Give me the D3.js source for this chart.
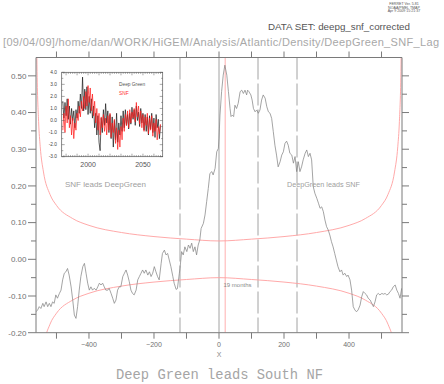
<!DOCTYPE html>
<html>
<head>
<meta charset="utf-8">
<script src="https://cdn.jsdelivr.net/npm/d3@7"></script>
<style>
  body { margin: 0; background: #fff; }
  svg { display: block; }
</style>
</head>
<body>
<script>
// lag correlation DeepGreen vs SNF (lag in months)
const corrLag = [
  -563,-558,-553,-548,-542,-538,-532,-527,-522,-517,-512,-507,-502,-497,-491,-486,-481,-476,-471,-466,
  -461,-455,-450,-445,-440,-435,-430,-425,-419,-414,-409,-404,-399,-394,-389,-384,-378,-373,-368,-363,
  -358,-353,-348,-342,-338,-332,-327,-322,-317,-312,-307,-302,-296,-291,-286,-281,-276,-271,-266,-261,
  -255,-250,-245,-240,-235,-230,-225,-219,-214,-209,-204,-199,-194,-189,-184,-178,-174,-168,-163,-158,
  -153,-148,-142,-138,-132,-128,-122,-120,-115,-110,-105,-99,-94,-89,-84,-79,-74,-69,-64,-59,
  -55,-48,-43,-38,-33,-28,-22,-18,-12,-7,-2,0,3,8,13,18,24,29,34,37,
  41,45,49,54,59,65,70,75,80,85,88,92,98,102,106,111,116,121,126,131,
  136,142,147,152,157,162,167,172,177,182,188,193,198,203,208,213,218,224,229,234,
  239,244,249,254,259,265,270,275,280,285,290,295,301,306,311,316,321,326,331,336,
  341,346,351,356,361,366,372,377,382,387,393,397,403,408,413,418,423,428,434,439,
  444,449,454,459,465,470,475,480,485,490,495,501,506,511,516,521,526,531,536,542,
  547,552,557,562
];
const corrVal = [
  -0.143,-0.138,-0.129,-0.134,-0.120,-0.129,-0.116,-0.129,-0.120,-0.129,-0.116,-0.120,-0.097,-0.106,-0.093,-0.084,-0.056,-0.038,-0.034,-0.025,
  -0.043,-0.075,-0.111,-0.152,-0.161,-0.129,-0.084,-0.047,-0.020,-0.011,-0.038,-0.065,-0.084,-0.075,-0.084,-0.079,-0.084,-0.075,-0.065,-0.070,
  -0.065,-0.075,-0.084,-0.084,-0.079,-0.093,-0.106,-0.120,-0.111,-0.084,-0.075,-0.075,-0.047,-0.038,-0.029,-0.043,-0.061,-0.084,-0.093,-0.097,
  -0.084,-0.056,-0.047,-0.038,-0.029,-0.038,-0.029,-0.043,-0.034,-0.047,-0.038,-0.020,-0.034,-0.047,-0.056,-0.011,0.016,0.025,0.012,0.016,
  -0.002,-0.020,-0.047,-0.065,-0.082,-0.080,-0.038,-0.025,0.021,0.012,0.034,0.021,0.039,0.030,0.044,0.021,0.034,0.012,0.039,0.053,
  0.084,0.098,0.121,0.157,0.193,0.234,0.239,0.230,0.248,0.293,0.302,0.330,0.393,0.457,0.502,0.529,0.502,0.457,0.411,0.389,
  0.393,0.389,0.420,0.411,0.425,0.457,0.461,0.452,0.461,0.448,0.461,0.457,0.448,0.434,0.411,0.402,0.407,0.398,0.407,0.434,
  0.448,0.439,0.416,0.402,0.398,0.384,0.348,0.311,0.284,0.252,0.266,0.284,0.293,0.316,0.322,0.311,0.289,0.284,0.262,0.280,
  0.239,0.266,0.239,0.252,0.271,0.289,0.298,0.280,0.289,0.271,0.198,0.180,0.166,0.153,0.139,0.143,0.130,0.107,0.089,0.080,
  0.066,0.048,0.034,0.016,-0.002,-0.020,-0.034,-0.029,-0.043,-0.038,-0.047,-0.043,-0.056,-0.084,-0.129,-0.138,-0.143,-0.138,-0.125,-0.102,
  -0.088,-0.093,-0.097,-0.106,-0.111,-0.120,-0.129,-0.116,-0.097,-0.093,-0.097,-0.093,-0.095,-0.093,-0.097,-0.095,-0.088,-0.084,-0.075,-0.070,
  -0.084,-0.093,-0.106,-0.079
];

// significance bounds
const sigLag   = [-562,-560,-555,-550,-540,-520,-500,-450,-400,-300,-200,-100,0,100,200,300,400,450,500,520,540,550,555,560,562];
const sigUpper = [0.69,0.53,0.376,0.307,0.238,0.177,0.147,0.111,0.0925,0.073,0.062,0.055,0.05,0.055,0.062,0.073,0.0925,0.111,0.147,0.177,0.238,0.307,0.376,0.53,0.69];
const sigLower = [-0.69,-0.53,-0.376,-0.307,-0.238,-0.177,-0.147,-0.111,-0.0925,-0.073,-0.062,-0.055,-0.05,-0.055,-0.062,-0.073,-0.0925,-0.111,-0.147,-0.177,-0.238,-0.307,-0.376,-0.53,-0.69];

const markerLags = [-120, 120, 240];
const leadLag = 19;

const xTicks = [-500,-400,-300,-200,-100,0,100,200,300,400,500];
const xLabels = [-400,-200,0,200,400];
const yTicks = [-0.2,-0.15,-0.1,-0.05,0,0.05,0.1,0.15,0.2,0.25,0.3,0.35,0.4,0.45,0.5];
const yLabels = [-0.2,-0.1,0,0.1,0.2,0.3,0.4,0.5];

// inset time series, one value per year from 1977
const insetStart = 1977;
const deepGreen = [
  1.6,0.2,1.5,0.4,1.8,0.1,1.2,-0.3,1.0,0.0,
  0.8,-0.6,0.9,0.2,1.6,0.6,2.2,1.0,3.6,0.8,
  2.6,0.9,2.8,0.5,2.0,0.6,1.8,0.2,1.2,-0.6,
  0.6,-1.2,0.4,-1.8,-2.5,0.2,-1.0,0.9,-0.4,1.4,
  -0.2,0.8,-1.0,0.5,-1.5,0.3,-2.2,0.0,-1.6,0.6,
  -1.8,-0.2,-1.2,0.4,-0.9,0.8,-0.6,0.9,-0.4,0.5,
  -0.7,0.6,-0.3,1.1,0.1,0.9,-0.4,1.2,0.0,0.7,
  -0.5,1.0,-0.2,0.6,-0.8,0.5,-0.9,0.3,-1.2,0.4,
  -0.7,0.6,-1.0,0.2,-1.4,0.5,-0.6,0.1,-1.5,-0.4
];
const snf = [
  -0.8,0.6,-1.0,1.2,-0.2,1.8,-0.6,0.4,-1.2,0.2,
  -1.5,-0.2,-0.8,0.6,0.0,1.2,0.3,1.6,0.8,2.0,
  1.0,2.4,1.2,2.9,1.5,2.7,0.8,2.2,0.4,1.6,
  -0.2,1.0,-0.8,0.6,-1.2,0.3,-0.6,0.5,-0.9,0.2,
  -1.2,0.4,-0.8,0.6,-1.4,-0.2,-1.0,0.1,-1.9,-0.6,
  -2.4,-0.8,-2.2,-0.5,-1.6,0.2,-0.9,0.5,-0.4,0.8,
  -0.6,0.9,-0.2,0.7,0.2,1.0,-0.1,1.5,0.3,1.2,
  -0.3,0.8,-0.6,0.5,-0.9,0.3,-0.4,0.6,-1.1,0.2,
  -0.8,0.4,-1.3,-0.2,-0.9,0.1,-1.6,-0.5,-1.1,-0.3
];
const insetYTicks = [-3,-2,-1,0,1,2,3,4];
const insetXLabels = [2000, 2050];

const width = 444, height = 384;
const pLeft = 36, pRight = 402, pTop = 57.5, pBottom = 332.7;
const axisColor = "#7a7a7a";

const svg = d3.select("body").append("svg")
    .attr("width", width)
    .attr("height", height)
    .attr("font-family", "'Liberation Sans', sans-serif");

const x = d3.scaleLinear().domain([-563, 563]).range([pLeft, pRight]);
const y = d3.scaleLinear().domain([-0.2, 0.55]).range([pBottom, pTop]);

svg.append("clipPath").attr("id", "plot")
  .append("rect")
    .attr("x", pLeft).attr("y", pTop)
    .attr("width", pRight - pLeft).attr("height", pBottom - pTop);

const plot = svg.append("g").attr("clip-path", "url(#plot)");

// vertical reference lines
plot.selectAll(".marker")
  .data(markerLags)
  .join("line")
    .attr("x1", d => x(d)).attr("x2", d => x(d))
    .attr("y1", pTop).attr("y2", pBottom)
    .attr("stroke", "#8c8c8c")
    .attr("stroke-width", 0.8)
    .attr("stroke-dasharray", "22,4");

plot.append("line")
    .attr("x1", x(0)).attr("x2", x(0))
    .attr("y1", pTop).attr("y2", pBottom)
    .attr("stroke", "#8c8c8c")
    .attr("stroke-width", 0.8);

plot.append("line")
    .attr("x1", x(leadLag)).attr("x2", x(leadLag))
    .attr("y1", pTop).attr("y2", pBottom)
    .attr("stroke", "#ff9a9a")
    .attr("stroke-width", 0.8);

// significance curves
const sigLine = d3.line()
    .x((d, i) => x(sigLag[i]))
    .y(d => y(d))
    .curve(d3.curveMonotoneX);

[sigUpper, sigLower].forEach(s => {
  plot.append("path")
      .attr("d", sigLine(s))
      .attr("fill", "none")
      .attr("stroke", "#ff9f9f")
      .attr("stroke-width", 0.9);
});

// correlation curve
const corrLine = d3.line()
    .x((d, i) => x(corrLag[i]))
    .y(d => y(d));

plot.append("path")
    .attr("d", corrLine(corrVal))
    .attr("fill", "none")
    .attr("stroke", "#858585")
    .attr("stroke-width", 0.75);

// axes frame
const frame = svg.append("g").attr("stroke", axisColor).attr("stroke-width", 1);
frame.append("line").attr("x1", pLeft).attr("x2", pLeft).attr("y1", pTop).attr("y2", pBottom);
frame.append("line").attr("x1", pRight).attr("x2", pRight).attr("y1", pTop).attr("y2", pBottom);
frame.append("line").attr("x1", pLeft).attr("x2", pRight).attr("y1", pBottom).attr("y2", pBottom);
frame.append("line").attr("x1", pLeft).attr("x2", pRight).attr("y1", pTop).attr("y2", pTop);

const isLabelY = d => yLabels.some(v => Math.abs(v - d) < 1e-9);

frame.selectAll(".ytl")
  .data(yTicks)
  .join("line")
    .attr("x1", d => isLabelY(d) ? pLeft - 8 : pLeft - 5).attr("x2", pLeft)
    .attr("y1", d => y(d)).attr("y2", d => y(d));

frame.selectAll(".ytr")
  .data(yTicks)
  .join("line")
    .attr("x1", pRight).attr("x2", d => isLabelY(d) ? pRight + 7 : pRight + 5)
    .attr("y1", d => y(d)).attr("y2", d => y(d));

frame.selectAll(".xtb")
  .data(xTicks)
  .join("line")
    .attr("x1", d => x(d)).attr("x2", d => x(d))
    .attr("y1", pBottom).attr("y2", pBottom + 6);

frame.selectAll(".xtt")
  .data(xTicks)
  .join("line")
    .attr("x1", d => x(d)).attr("x2", d => x(d))
    .attr("y1", pTop).attr("y2", pTop - 6);

const fmtY = d => (d < 0 ? "-" : "") + Math.abs(d).toFixed(2);

svg.append("g")
  .selectAll("text")
  .data(yLabels)
  .join("text")
    .attr("x", 26.5)
    .attr("y", d => y(d))
    .attr("dy", "0.35em")
    .attr("text-anchor", "end")
    .attr("font-size", 8)
    .attr("fill", "#707070")
    .text(fmtY);

svg.append("g")
  .selectAll("text")
  .data(xLabels)
  .join("text")
    .attr("x", d => x(d))
    .attr("y", 345)
    .attr("dy", "0.35em")
    .attr("text-anchor", "middle")
    .attr("font-size", 7)
    .attr("fill", "#707070")
    .text(d => (d < 0 ? "\u2212" : "") + Math.abs(d));

svg.append("text")
    .attr("x", x(0)).attr("y", 355).attr("dy", "0.35em")
    .attr("text-anchor", "middle")
    .attr("font-size", 7)
    .attr("fill", "#8a8a8a")
    .text("X");

// annotations inside the plot
svg.append("text")
    .attr("x", 65).attr("y", 184).attr("dy", "0.35em")
    .attr("font-size", 8)
    .attr("textLength", 81).attr("lengthAdjust", "spacingAndGlyphs")
    .attr("fill", "#a0a0a0")
    .text("SNF leads DeepGreen");

svg.append("text")
    .attr("x", 287).attr("y", 184.5).attr("dy", "0.35em")
    .attr("font-size", 8)
    .attr("textLength", 73).attr("lengthAdjust", "spacingAndGlyphs")
    .attr("fill", "#a0a0a0")
    .text("DeepGreen leads SNF");

svg.append("text")
    .attr("x", 223.5).attr("y", 285).attr("dy", "0.35em")
    .attr("font-size", 6)
    .attr("textLength", 28).attr("lengthAdjust", "spacingAndGlyphs")
    .attr("fill", "#8a8a8a")
    .text("19 months");

// inset time series
const ix = d3.scaleLinear().domain([1976, 2068]).range([61.7, 162.7]);
const iy = d3.scaleLinear().domain([-3, 4]).range([156.7, 72.3]);
const inset = svg.append("g");

inset.append("rect")
    .attr("x", 61.7).attr("y", 72.3)
    .attr("width", 101).attr("height", 84.4)
    .attr("fill", "#fff");

inset.append("clipPath").attr("id", "insetClip")
  .append("rect")
    .attr("x", 61.7).attr("y", 72.3)
    .attr("width", 101).attr("height", 84.4);

const insetLine = d3.line()
    .x((d, i) => ix(insetStart + i))
    .y(d => iy(d));

const series = inset.append("g").attr("clip-path", "url(#insetClip)");
series.append("path")
    .attr("d", insetLine(deepGreen))
    .attr("fill", "none")
    .attr("stroke", "#1a1a1a")
    .attr("stroke-width", 0.7);
series.append("path")
    .attr("d", insetLine(snf))
    .attr("fill", "none")
    .attr("stroke", "#ff1a1a")
    .attr("stroke-width", 0.7);

inset.append("rect")
    .attr("x", 61.7).attr("y", 72.3)
    .attr("width", 101).attr("height", 84.4)
    .attr("fill", "none")
    .attr("stroke", "#555")
    .attr("stroke-width", 0.7);

const insetTicks = inset.append("g").attr("stroke", "#555").attr("stroke-width", 0.5);
d3.range(1978, 2068, 2).forEach(yr => {
  const len = yr % 10 === 0 ? 3 : 1.6;
  insetTicks.append("line").attr("x1", ix(yr)).attr("x2", ix(yr)).attr("y1", 72.3).attr("y2", 72.3 + len);
  insetTicks.append("line").attr("x1", ix(yr)).attr("x2", ix(yr)).attr("y1", 156.7).attr("y2", 156.7 - len);
});
d3.range(-3, 4.01, 0.5).forEach(v => {
  const len = Number.isInteger(v) ? 3 : 1.6;
  insetTicks.append("line").attr("x1", 61.7).attr("x2", 61.7 + len).attr("y1", iy(v)).attr("y2", iy(v));
  insetTicks.append("line").attr("x1", 162.7).attr("x2", 162.7 - len).attr("y1", iy(v)).attr("y2", iy(v));
});

inset.selectAll(".iyl")
  .data(insetYTicks)
  .join("text")
    .attr("x", 57)
    .attr("y", d => iy(d))
    .attr("dy", "0.35em")
    .attr("text-anchor", "end")
    .attr("font-size", 4.8)
    .attr("fill", "#444")
    .text(d => d.toFixed(1));

inset.selectAll(".ixl")
  .data(insetXLabels)
  .join("text")
    .attr("x", d => ix(d))
    .attr("y", 165)
    .attr("dy", "0.35em")
    .attr("text-anchor", "middle")
    .attr("font-size", 7)
    .attr("fill", "#555")
    .text(d => d);

inset.append("text")
    .attr("x", 119).attr("y", 84.5).attr("dy", "0.35em")
    .attr("font-size", 4.8)
    .attr("fill", "#555")
    .text("Deep Green");
inset.append("text")
    .attr("x", 119).attr("y", 93).attr("dy", "0.35em")
    .attr("font-size", 4.8)
    .attr("fill", "#ff3030")
    .text("SNF");

// header and title
const header = ["FERRET Ver. 5.81", "NOAA/PMEL TMAP", "Apr  9 2009 15:21:37"];
svg.append("g")
  .selectAll("text")
  .data(header)
  .join("text")
    .attr("x", 404)
    .attr("y", (d, i) => 4 + i * 3.6)
    .attr("dy", "0.35em")
    .attr("text-anchor", "middle")
    .attr("font-size", 3.6)
    .attr("fill", "#555")
    .text(d => d);

svg.append("text")
    .attr("x", 268).attr("y", 27).attr("dy", "0.35em")
    .attr("font-size", 9)
    .attr("textLength", 142).attr("lengthAdjust", "spacingAndGlyphs")
    .attr("fill", "#555")
    .text("DATA SET: deepg_snf_corrected");

svg.append("text")
    .attr("x", 3).attr("y", 42).attr("dy", "0.35em")
    .attr("font-size", 11)
    .attr("textLength", 436).attr("lengthAdjust", "spacing")
    .attr("fill", "#a8a8a8")
    .text("[09/04/09]/home/dan/WORK/HiGEM/Analysis/Atlantic/Density/DeepGreen_SNF_Lag");

svg.append("text")
    .attr("x", 116).attr("y", 374.5).attr("dy", "0.35em")
    .attr("font-family", "'Liberation Mono', monospace")
    .attr("font-size", 14)
    .attr("textLength", 207).attr("lengthAdjust", "spacingAndGlyphs")
    .attr("fill", "#a5a5a5")
    .text("Deep Green leads South NF");
</script>
</body>
</html>
